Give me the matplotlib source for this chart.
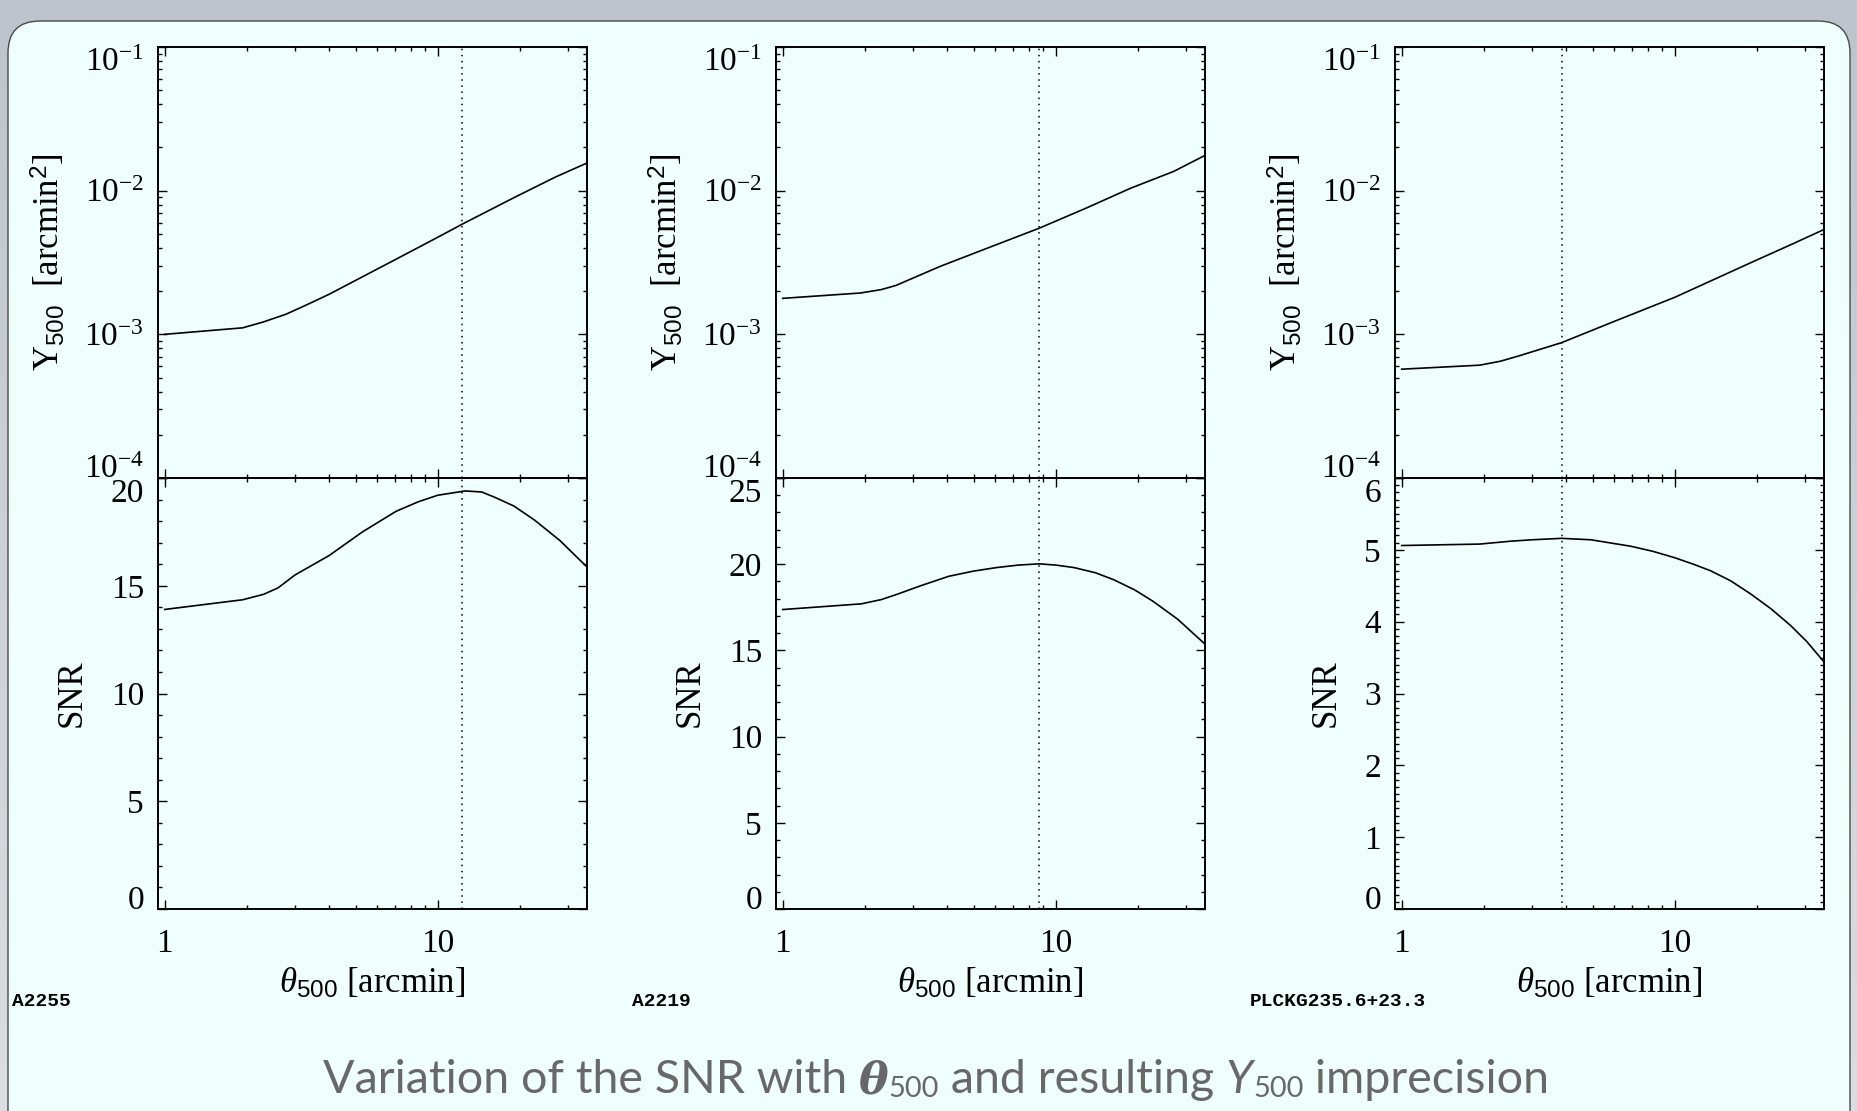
import numpy as np
import matplotlib
matplotlib.use("Agg")
import matplotlib.pyplot as plt
from matplotlib.patches import FancyBboxPatch
from matplotlib.ticker import FixedLocator, NullFormatter, FixedFormatter, LogLocator, LogFormatterSciNotation

# ---------------- data ----------------
cluster_names = ["A2255", "A2219", "PLCKG235.6+23.3"]

theta_a2255_y = [1.0, 1.93, 2.3, 2.78, 3.3, 4.0, 5.5, 7.05, 10.0, 12.3, 19.1, 27.0, 35.0]
y500_a2255 = [1.0e-3, 1.11e-3, 1.22e-3, 1.38e-3, 1.6e-3, 1.90e-3, 2.61e-3, 3.34e-3,
              4.74e-3, 5.85e-3, 8.98e-3, 1.245e-2, 1.55e-2]
theta_a2255_s = [1.0, 1.93, 2.3, 2.6, 3.0, 4.0, 5.3, 7.05, 8.5, 10.0, 12.6, 14.5, 16.2, 19.0,
                 22.6, 28.0, 35.0]
snr_a2255 = [13.9, 14.35, 14.6, 14.9, 15.5, 16.4, 17.5, 18.46, 18.9, 19.2, 19.4, 19.35, 19.1,
             18.7, 18.05, 17.1, 15.9]

theta_a2219_y = [1.0, 1.93, 2.3, 2.6, 3.77, 5.5, 8.7, 13.0, 18.8, 27.0, 35.0]
y500_a2219 = [1.78e-3, 1.94e-3, 2.05e-3, 2.19e-3, 2.97e-3, 3.92e-3, 5.48e-3, 7.6e-3, 1.04e-2,
              1.36e-2, 1.75e-2]
theta_a2219_s = [1.0, 1.94, 2.3, 2.63, 3.2, 4.06, 5.0, 6.04, 7.3, 8.7, 10.0, 11.7, 14.0, 16.3,
                 19.5, 22.7, 28.0, 35.0]
snr_a2219 = [17.37, 17.7, 17.95, 18.26, 18.75, 19.3, 19.6, 19.8, 19.95, 20.02, 19.95, 19.8,
             19.5, 19.1, 18.5, 17.85, 16.8, 15.4]

theta_plck_y = [1.0, 1.93, 2.3, 2.7, 3.85, 6.0, 10.0, 18.9, 27.0, 35.0]
y500_plck = [5.72e-4, 6.1e-4, 6.5e-4, 7.1e-4, 8.75e-4, 1.23e-3, 1.81e-3, 3.14e-3, 4.26e-3,
             5.34e-3]
theta_plck_s = [1.0, 1.93, 2.5, 3.0, 3.85, 4.93, 6.9, 8.3, 10.0, 11.7, 13.5, 16.0, 18.9, 22.5,
                26.5, 30.5, 35.0]
snr_plck = [5.06, 5.08, 5.12, 5.14, 5.16, 5.14, 5.05, 4.98, 4.89, 4.80, 4.71, 4.57, 4.39, 4.18,
            3.95, 3.72, 3.45]

theta_peak = [12.3, 8.7, 3.85]
snr_max = [20, 25, 6]
snr_major = [5, 5, 1]
snr_minor = [1, 1, 0.1]

x_major = [1, 10]
x_major_labels = ["1", "10"]
x_minor = [2, 3, 4, 5, 6, 7, 8, 9, 20, 30]

# ---------------- style ----------------
plt.rcParams['font.family'] = ['Liberation Serif', 'DejaVu Serif']
plt.rcParams['mathtext.fontset'] = 'custom'
plt.rcParams['mathtext.rm'] = 'Liberation Serif'
plt.rcParams['mathtext.it'] = 'Liberation Serif:italic'
plt.rcParams['mathtext.bf'] = 'Liberation Serif:bold'
plt.rcParams['mathtext.sf'] = 'Liberation Sans'

W, H = 1858, 1111
fig = plt.figure(figsize=(W / 100, H / 100), dpi=100)

# background: grey gradient + light cyan rounded panel
bg = fig.add_axes([0, 0, 1, 1], zorder=-10)
bg.set_xlim(0, W)
bg.set_ylim(H, 0)
bg.axis('off')
grad = np.linspace(0, 1, 256)[:, None]
top_c = np.array([0.74, 0.77, 0.80])
bot_c = np.array([0.86, 0.87, 0.88])
img = top_c[None, None, :] * (1 - grad[..., None]) + bot_c[None, None, :] * grad[..., None]
bg.imshow(img, extent=[0, W, H, 0], aspect='auto', interpolation='bilinear')
panel = FancyBboxPatch((8, 21), W - 16, H + 20, boxstyle="round,pad=0,rounding_size=32",
                       facecolor='#EFFFFB', edgecolor='#4a4a4a', linewidth=1.0)
bg.add_patch(panel)

lefts = [158, 776, 1395]
pw = 429
top_px, mid_px, bot_px = 47, 478, 909

series = [
    (theta_a2255_y, y500_a2255, theta_a2255_s, snr_a2255),
    (theta_a2219_y, y500_a2219, theta_a2219_s, snr_a2219),
    (theta_plck_y, y500_plck, theta_plck_s, snr_plck),
]
label_x = [12, 632, 1250]

tick_fs = 24
lab_fs = 25

def style_axes(ax):
    for s in ax.spines.values():
        s.set_linewidth(1.4)
    ax.tick_params(which='both', direction='in', top=True, right=True, width=1.0, colors='black')
    ax.tick_params(which='major', length=6.5)
    ax.tick_params(which='minor', length=3.2)
    ax.tick_params(axis='x', which='both', pad=14)
    ax.tick_params(axis='y', which='both', pad=10, labelsize=tick_fs)
    ax.tick_params(axis='x', labelsize=tick_fs)
    ax.set_facecolor('none')

def end_labels_inward(ax, top_va='top', bottom_va='bottom'):
    ticks = ax.yaxis.get_major_ticks()
    ticks[0].label1.set_verticalalignment(bottom_va)
    ticks[-1].label1.set_verticalalignment(top_va)

for i in range(3):
    tx_y, yv, tx_s, sv = series[i]
    l = lefts[i] / W
    w = pw / W
    ax_t = fig.add_axes([l, 1 - mid_px / H, w, (mid_px - top_px) / H])
    ax_b = fig.add_axes([l, 1 - bot_px / H, w, (bot_px - mid_px) / H])

    # top: Y500
    ax_t.plot(tx_y, yv, color='black', lw=1.2)
    ax_t.axvline(theta_peak[i], color='black', lw=1.1, ls=(0, (1, 3)))
    ax_t.set_xscale('log')
    ax_t.set_yscale('log')
    ax_t.set_xlim(0.945, 35.2)
    ax_t.set_ylim(1e-4, 1e-1)
    ax_t.yaxis.set_major_locator(FixedLocator([1e-4, 1e-3, 1e-2, 1e-1]))
    ax_t.yaxis.set_minor_locator(LogLocator(base=10, subs=np.arange(2, 10), numticks=10))
    ax_t.yaxis.set_major_formatter(LogFormatterSciNotation())
    ax_t.yaxis.set_minor_formatter(NullFormatter())
    ax_t.xaxis.set_major_locator(FixedLocator(x_major))
    ax_t.xaxis.set_minor_locator(FixedLocator(x_minor))
    ax_t.xaxis.set_major_formatter(NullFormatter())
    ax_t.xaxis.set_minor_formatter(NullFormatter())
    style_axes(ax_t)
    end_labels_inward(ax_t, top_va='top', bottom_va='baseline')
    ax_t.set_ylabel(r"Y$_{\mathsf{500}}$  [arcmin$^{\mathsf{2}}$]", fontsize=lab_fs, labelpad=12)

    # bottom: SNR
    ax_b.plot(tx_s, sv, color='black', lw=1.2)
    ax_b.axvline(theta_peak[i], color='black', lw=1.1, ls=(0, (1, 3)))
    ax_b.set_xscale('log')
    ax_b.set_xlim(0.945, 35.2)
    ax_b.set_ylim(0, snr_max[i])
    ax_b.yaxis.set_major_locator(FixedLocator(np.arange(0, snr_max[i] + 0.01, snr_major[i])))
    ax_b.yaxis.set_minor_locator(FixedLocator(np.arange(0, snr_max[i] + 0.001, snr_minor[i])))
    ax_b.xaxis.set_major_locator(FixedLocator(x_major))
    ax_b.xaxis.set_minor_locator(FixedLocator(x_minor))
    ax_b.xaxis.set_major_formatter(FixedFormatter(x_major_labels))
    ax_b.xaxis.set_minor_formatter(NullFormatter())
    style_axes(ax_b)
    end_labels_inward(ax_b, top_va='top', bottom_va='baseline')
    ax_b.set_ylabel("SNR", fontsize=lab_fs, labelpad=16)
    ax_b.set_xlabel(r"$\theta_{\mathsf{500}}$ [arcmin]", fontsize=lab_fs, labelpad=6)

    fig.text(label_x[i] / W, 1 - 1001 / H, cluster_names[i], family='Liberation Mono',
             weight='bold', fontsize=14, va='center', ha='left')

# ---------------- caption built from pieces ----------------
renderer = fig.canvas.get_renderer()
grey = '#686868'
sans = dict(family=['Lato', 'DejaVu Sans'], weight='normal')
parts = [
    ("Variation of the SNR with ", sans, 1.0, 0.0),
    ("θ", dict(family='DejaVu Serif', weight='bold', style='italic'), 0.95, 0.0),
    ("500", sans, 0.62, -0.08),
    (" and resulting ", sans, 1.0, 0.0),
    ("Y", dict(family=['Lato', 'DejaVu Sans'], weight='normal', style='italic'), 1.0, 0.0),
    ("500", sans, 0.62, -0.08),
    (" imprecision", sans, 1.0, 0.0),
]

def build(size, x0, base_y):
    objs = []
    x = x0
    for txt, props, scale, dy in parts:
        t = fig.text(x / W, 1 - (base_y - dy * size * 1.39) / H, txt, fontsize=size * scale,
                     color=grey, va='baseline', ha='left', **props)
        bb = t.get_window_extent(renderer)
        x += bb.width
        objs.append(t)
    return objs, x - x0

objs, width = build(34, 0, 1093)
for o in objs:
    o.remove()
target_w = 1555 - 323
size = 34 * target_w / width
objs, width = build(size, 939 - target_w / 2, 1093)

fig.savefig("out.png", dpi=100)
